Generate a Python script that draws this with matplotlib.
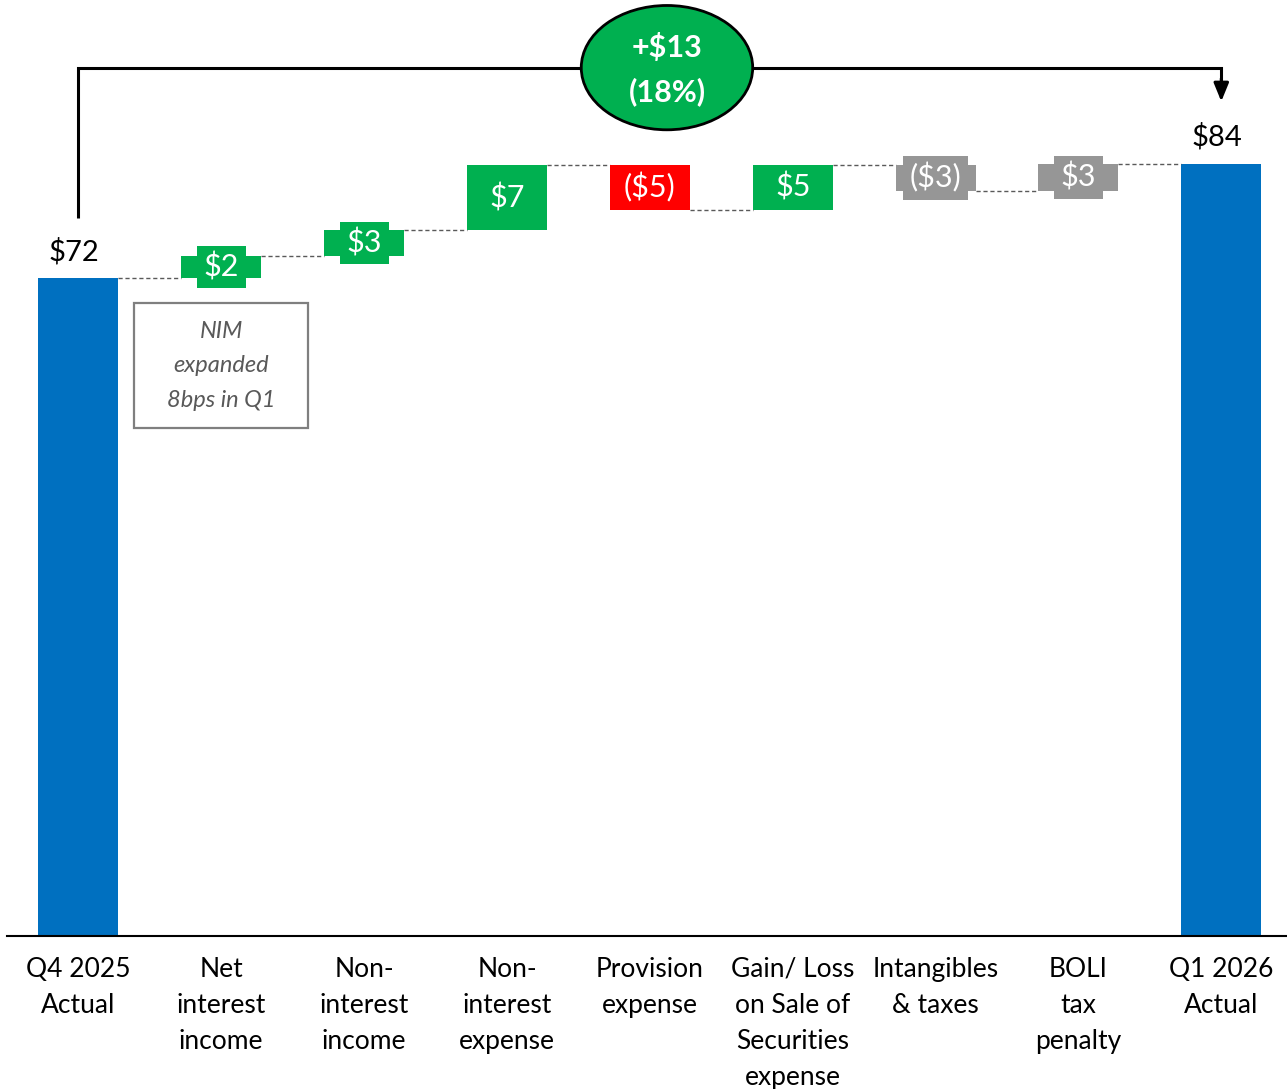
import matplotlib.pyplot as plt
from matplotlib.patches import Ellipse, Rectangle

plt.rcParams['font.family'] = ['Lato', 'DejaVu Sans']

categories = ['Q4 2025\nActual', 'Net\ninterest\nincome', 'Non-\ninterest\nincome',
              'Non-\ninterest\nexpense', 'Provision\nexpense',
              'Gain/ Loss\non Sale of\nSecurities\nexpense', 'Intangibles\n& taxes',
              'BOLI\ntax\npenalty', 'Q1 2026\nActual']
start_value = 72.0
deltas = [2.4, 2.8, 7.1, -4.9, 5.0, -2.9, 3.0]
end_value = 84.5
total_labels = ['$72', '$84']
delta_labels = ['$2', '$3', '$7', '($5)', '$5', '($3)', '$3']
delta_colors = ['#00B050', '#00B050', '#00B050', '#FF0000', '#00B050', '#969696', '#969696']
change_text = '+$13\n(18%)'
note_text = 'NIM\nexpanded\n8bps in Q1'

BLUE = '#0070C0'
WIDTH = 0.56

fig = plt.figure(figsize=(12.87, 10.89), dpi=100)
ax = fig.add_axes([0.0054, 1 - 936 / 1089, 1 - 0.0054, 936 / 1089])
ax.set_xlim(-0.5, 8.46)
ax.set_ylim(0, 102.4)

# totals
n = len(categories)
ax.bar(0, start_value, width=WIDTH, color=BLUE)
ax.bar(n - 1, end_value, width=WIDTH, color=BLUE)
ax.text(0 - 0.03, start_value + 1.4, total_labels[0], ha='center', va='bottom', fontsize=21)
ax.text(n - 1 - 0.03, end_value + 1.4, total_labels[1], ha='center', va='bottom', fontsize=21)

# floating steps
level = start_value
prev_right = 0 + WIDTH / 2
for i, (d, lab, col) in enumerate(zip(deltas, delta_labels, delta_colors), start=1):
    ax.plot([prev_right, i - WIDTH / 2], [level, level], color='#595959', lw=1,
            ls=(0, (3, 2)), zorder=1)
    ax.bar(i, d, bottom=level, width=WIDTH, color=col, zorder=2)
    ax.text(i, level + d / 2, lab, ha='center', va='center', fontsize=22, color='white',
            zorder=3, bbox=dict(boxstyle='square,pad=0.22', fc=col, ec='none'))
    level += d
    prev_right = i + WIDTH / 2
ax.plot([prev_right, n - 1 - WIDTH / 2], [level, level], color='#595959', lw=1,
        ls=(0, (3, 2)), zorder=1)

# bracket with arrow
bracket_y = 95.0
ax.plot([0, 0, n - 1, n - 1], [78.6, bracket_y, bracket_y, 93.0], color='black', lw=2.2,
        solid_capstyle='butt', solid_joinstyle='miter')
ax.annotate('', xy=(n - 1, 91.3), xytext=(n - 1, 93.8),
            arrowprops=dict(arrowstyle='-|>,head_width=0.45,head_length=1.1',
                            color='black', lw=2.2, shrinkA=0, shrinkB=0))
ax.add_patch(Ellipse((4.12, bracket_y), 1.2, 13.6, fc='#00B050', ec='black', lw=2, zorder=4))
ax.text(4.12, bracket_y - 0.2, change_text, ha='center', va='center', fontsize=22,
        fontweight='bold', color='white', linespacing=1.65, zorder=5)

# note box
ax.add_patch(Rectangle((0.392, 55.6), 1.218, 13.7, fc='white', ec='#7F7F7F', lw=1.6, zorder=3))
ax.text(1.0, 62.4, note_text, ha='center', va='center', fontsize=17, style='italic',
        color='#595959', linespacing=1.8, zorder=4)

ax.set_xticks(range(n), categories, fontsize=19, linespacing=1.55)
ax.tick_params(axis='x', length=0, pad=15)
ax.set_yticks([])
for s in ['top', 'right', 'left']:
    ax.spines[s].set_visible(False)
ax.spines['bottom'].set_linewidth(1.5)

fig.savefig('out.png', dpi=100)
